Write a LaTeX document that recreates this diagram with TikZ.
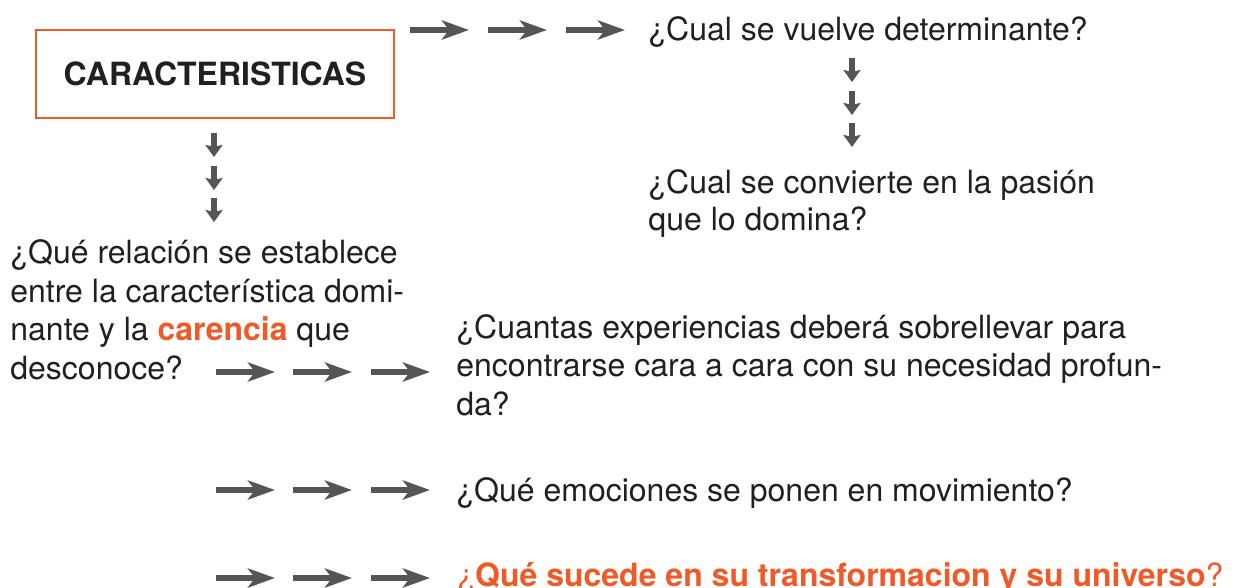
\documentclass[tikz,border=0pt]{standalone}
\usepackage{fontspec}
\setmainfont{TeX Gyre Heros}
\usetikzlibrary{arrows.meta}
\definecolor{naranja}{RGB}{240,90,40}
\definecolor{gris}{RGB}{85,85,85}
\definecolor{tinta}{RGB}{35,31,32}

\begin{document}
\begin{tikzpicture}[
  x=0.5pt, y=-0.5pt,
  font=\fontsize{16}{19.25}\selectfont, text=tinta,
  caja/.style={draw=naranja, line width=1pt, inner sep=0pt,
    minimum width=179pt, minimum height=44pt, font=\fontsize{16}{19.25}\selectfont\bfseries},
  preg/.style={anchor=base west, inner sep=0pt, align=left},
  flecha/.style={-{Stealth[length=13.5pt, width=9.5pt, inset=3.5pt]},
    line width=3pt, gris},
  flechab/.style={-{Stealth[length=6pt, width=8.5pt, inset=1pt]},
    line width=3pt, gris},
]
\useasboundingbox (0,0) rectangle (1236,588);
% caja principal
\node[caja] (carac) at (215,74) {CARACTERISTICAS};
% preguntas (base = ultima linea)
\node[preg] (q1) at (648,41) {¿Cual se vuelve determinante?};
\node[preg] (q2) at (648,231) {¿Cual se convierte en la pasión\\[-0.75pt]que lo domina?};
\node[preg] (q3) at (10,379) {¿Qué relación se establece\\
  entre la característica domi-\\
  nante y la \textcolor{naranja}{\bfseries carencia} que\\
  desconoce?};
\node[preg] (q4) at (456,415) {¿Cuantas experiencias deberá sobrellevar para\\
  encontrarse cara a cara con su necesidad profun-\\
  da?};
\node[preg] (q5) at (456,501) {¿Qué emociones se ponen en movimiento?};
\node[preg, text=naranja] (q6) at (457,586) {¿{\bfseries Qué sucede en su transformacion y su universo}?};
% flechas horizontales
\foreach \i/\x in {1/410, 2/488, 3/566} {
  \coordinate (ta\i) at (\x,30);
  \coordinate (tb\i) at (\x+59,30);
  \draw[flecha] (ta\i) -- (tb\i);
}
\foreach \f/\y in {c/372, d/490, e/578} {
  \foreach \i/\x in {1/216, 2/293, 3/371} {
    \coordinate (\f a\i) at (\x,\y);
    \coordinate (\f b\i) at (\x+59,\y);
    \draw[flecha] (\f a\i) -- (\f b\i);
  }
}
% flechas verticales
\foreach \i/\y in {1/58, 2/91, 3/123} {
  \coordinate (ra\i) at (852,\y);
  \coordinate (rb\i) at (852,\y+24);
  \draw[flechab] (ra\i) -- (rb\i);
}
\foreach \i/\y in {1/133, 2/166, 3/198} {
  \coordinate (la\i) at (214,\y);
  \coordinate (lb\i) at (214,\y+24);
  \draw[flechab] (la\i) -- (lb\i);
}
\end{tikzpicture}
\end{document}
